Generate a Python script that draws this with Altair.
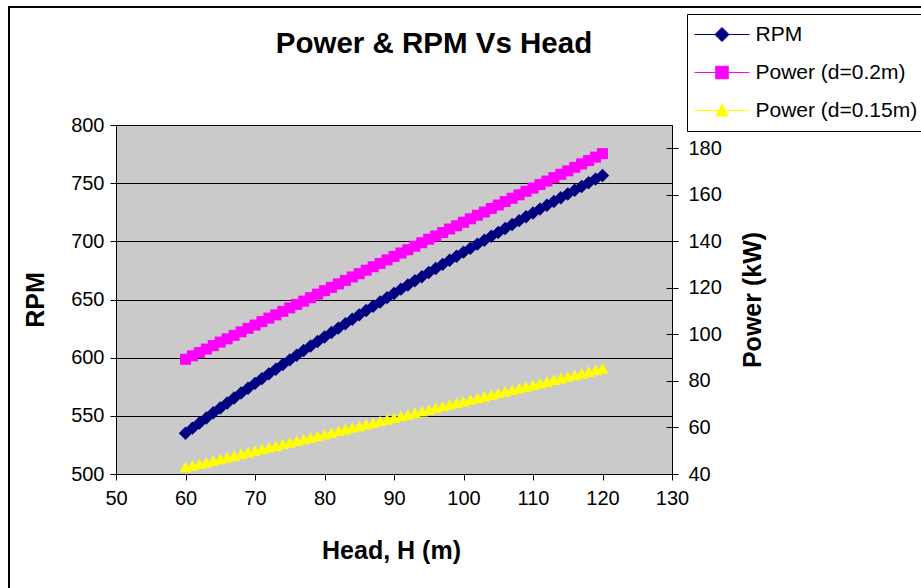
import altair as alt
import pandas as pd

# ---- data ----
head = list(range(60, 121))

rpm = [535.0, 539.4, 543.8, 548.2, 552.6, 556.8, 561.1, 565.3, 569.6, 573.7,
       577.9, 582.0, 586.1, 590.1, 594.1, 598.1, 602.1, 606.1, 610.0, 613.9,
       617.8, 621.6, 625.4, 629.2, 633.0, 636.8, 640.5, 644.2, 647.9, 651.6,
       655.2, 658.9, 662.5, 666.1, 669.6, 673.2, 676.7, 680.2, 683.7, 687.2,
       690.7, 694.1, 697.6, 701.0, 704.4, 707.7, 711.1, 714.5, 717.8, 721.1,
       724.4, 727.7, 731.0, 734.2, 737.5, 740.7, 743.9, 747.1, 750.3, 753.5,
       756.6]

power_02 = [89.3, 90.8, 92.2, 93.7, 95.2, 96.7, 98.1, 99.6, 101.1, 102.6,
            104.0, 105.5, 107.0, 108.4, 109.9, 111.4, 112.9, 114.3, 115.8, 117.3,
            118.8, 120.2, 121.7, 123.2, 124.7, 126.1, 127.6, 129.1, 130.5, 132.0,
            133.5, 135.0, 136.4, 137.9, 139.4, 140.9, 142.3, 143.8, 145.3, 146.7,
            148.2, 149.7, 151.2, 152.6, 154.1, 155.6, 157.1, 158.5, 160.0, 161.5,
            162.9, 164.4, 165.9, 167.4, 168.8, 170.3, 171.8, 173.3, 174.7, 176.2,
            177.7]

power_015 = [43.0, 43.7, 44.4, 45.1, 45.8, 46.5, 47.2, 47.9, 48.7, 49.4,
             50.1, 50.8, 51.5, 52.2, 52.9, 53.6, 54.3, 55.0, 55.7, 56.4,
             57.1, 57.8, 58.6, 59.3, 60.0, 60.7, 61.4, 62.1, 62.8, 63.5,
             64.2, 64.9, 65.6, 66.3, 67.0, 67.7, 68.4, 69.2, 69.9, 70.6,
             71.3, 72.0, 72.7, 73.4, 74.1, 74.8, 75.5, 76.2, 76.9, 77.6,
             78.3, 79.0, 79.7, 80.5, 81.2, 81.9, 82.6, 83.3, 84.0, 84.7,
             85.4]

series_names = ["RPM", "Power (d=0.2m)", "Power (d=0.15m)"]
series_colors = ["#000080", "#FF00FF", "#FFFF00"]

x_ticks = [50, 60, 70, 80, 90, 100, 110, 120, 130]
rpm_ticks = [500, 550, 600, 650, 700, 750, 800]
power_ticks = [40, 60, 80, 100, 120, 140, 160, 180]

FONT = "Liberation Sans"

df = pd.DataFrame({
    "head": head * 3,
    "value": rpm + power_02 + power_015,
    "series": [series_names[0]] * len(head) + [series_names[1]] * len(head) + [series_names[2]] * len(head),
})

# legend symbols: a short line with the marker in the middle
legend_shapes = [
    "M-5.5,0H5.5M0,-1.4L1.4,0L0,1.4L-1.4,0Z",
    "M-5.5,0H5.5M-1.25,-1.25H1.25V1.25H-1.25Z",
    "M-5.5,0H5.5M0,-1.3L1.2,1.1L-1.2,1.1Z",
]

color_scale = alt.Scale(domain=series_names, range=series_colors)
stroke_scale = alt.Scale(domain=series_names, range=series_colors)
shape_scale = alt.Scale(domain=series_names, range=legend_shapes)

x_enc = alt.X("head:Q", scale=alt.Scale(domain=[50, 130], nice=False),
              axis=alt.Axis(values=x_ticks, title="Head, H (m)", grid=False,
                            tickSize=6, labelPadding=8, labelFontSize=20,
                            labelFlush=False,
                            titleFontSize=25, titleX=275, titleY=76,
                            titleBaseline="middle"))

y_rpm = alt.Y("value:Q", scale=alt.Scale(domain=[500, 800], nice=False, zero=False),
              axis=alt.Axis(values=rpm_ticks, title="RPM", orient="left", grid=True,
                            gridColor="#000000", gridWidth=1, tickSize=6, labelPadding=6,
                            labelFontSize=20, labelFlush=False,
                            titleFontSize=25, titleAngle=270,
                            titleX=-81, titleY=174.5, titleBaseline="middle"))

pow_scale = alt.Scale(domain=[40, 190], nice=False, zero=False)

y_pow = alt.Y("value:Q", scale=pow_scale,
              axis=alt.Axis(values=power_ticks, title="Power (kW)", orient="right",
                            grid=False, tickSize=6, labelPadding=10, labelFontSize=20,
                            labelFlush=False,
                            titleFontSize=25, titleAngle=270, titleX=80, titleY=174.5,
                            titleBaseline="middle"))

# inner half of the crossing ticks on the right axis
y_pow_inner = alt.Y("value:Q", scale=pow_scale,
                    axis=alt.Axis(values=power_ticks, title=None, orient="right",
                                  grid=False, tickSize=6, labels=False, domain=False,
                                  offset=-6))

y_pow_noaxis = alt.Y("value:Q", scale=pow_scale, axis=None)

color_enc = alt.Color("series:N", scale=color_scale, title=None)

rpm_layer = alt.Chart(df).transform_filter(
    alt.datum.series == series_names[0]
).mark_point(shape="diamond", filled=True, size=180, opacity=1).encode(
    x=x_enc, y=y_rpm, color=color_enc
)

p02_layer = alt.Chart(df).transform_filter(
    alt.datum.series == series_names[1]
).mark_point(shape="square", filled=True, size=121, opacity=1).encode(
    x=x_enc, y=y_pow, color=color_enc
)

p015_layer = alt.Chart(df).transform_filter(
    alt.datum.series == series_names[2]
).mark_point(shape="triangle-up", filled=True, size=150, opacity=1).encode(
    x=x_enc, y=y_pow_inner, color=color_enc
)

legend_layer = alt.Chart(df).transform_filter("false").mark_point(
    filled=True, opacity=1, strokeWidth=1
).encode(
    x=x_enc, y=y_pow_noaxis, color=color_enc,
    stroke=alt.Stroke("series:N", scale=stroke_scale, title=None),
    shape=alt.Shape("series:N", scale=shape_scale, title=None),
)

frame_layer = alt.Chart(pd.DataFrame({"k": [0]})).mark_rect(
    fill="transparent", stroke="#000000", strokeWidth=2
).encode(
    x=alt.value(-107), x2=alt.value(1200), y=alt.value(-118), y2=alt.value(800)
)

power_layers = alt.layer(p02_layer, p015_layer, legend_layer).resolve_axis(y="independent")

chart = alt.layer(frame_layer, rpm_layer, power_layers).resolve_scale(
    y="independent"
).properties(
    width=556,
    height=349,
    padding={"left": 116, "top": 125, "right": 249, "bottom": 114},
    autosize=alt.AutoSizeParams(type="none"),
    title=alt.TitleParams("Power & RPM Vs Head", font=FONT, fontSize=29.5,
                          fontWeight="bold", color="#000000", anchor="middle",
                          frame="group", dx=40, dy=57),
).configure(
    background="#FFFFFF"
).configure_view(
    fill="#C9CAC9", stroke="#808080", strokeWidth=1
).configure_axis(
    domainColor="#000000", tickColor="#000000", labelColor="#000000",
    titleColor="#000000", labelFont=FONT, titleFont=FONT, titleFontWeight="bold",
    domainWidth=1, tickWidth=1
).configure_legend(
    orient="none", legendX=571, legendY=-111, padding=10,
    strokeColor="#000000", strokeWidth=1, fillColor="#FFFFFF",
    labelFont=FONT, labelFontSize=21, labelColor="#000000", labelLimit=0,
    symbolSize=100, symbolStrokeWidth=1, symbolOffset=14.5, labelOffset=23,
    rowPadding=16
)

chart.save("out.html", embed_options={"renderer": "svg", "actions": False})
